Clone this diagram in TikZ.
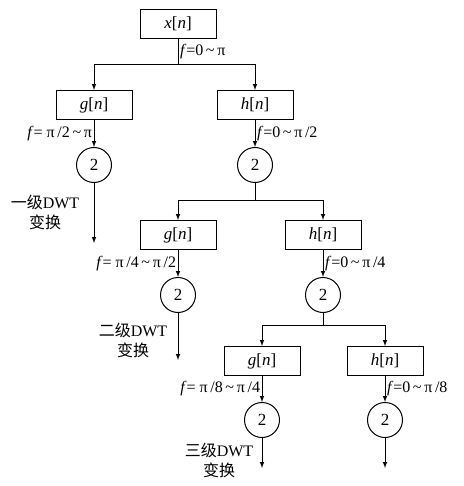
\documentclass[tikz,border=0pt]{standalone}
\usepackage{fontspec}
\setmainfont{Liberation Serif}
\newfontfamily\cjk{Noto Sans CJK SC}
\newcommand{\tl}{\,\textasciitilde\,}

\begin{document}
\begin{tikzpicture}[x=1pt,y=-1pt,line width=1pt,
  filt/.style={draw,minimum width=76pt,minimum height=29pt,inner sep=0pt,font=\fontsize{17}{19}\selectfont},
  dec/.style={draw,circle,minimum size=35pt,inner sep=0pt,font=\fontsize{17}{19}\selectfont},
  band/.style={font=\fontsize{16}{18}\selectfont,inner sep=1.5pt},
  lvl/.style={font=\fontsize{16}{20}\selectfont,align=center}]
\useasboundingbox (0,0) rectangle (463,486);
% input and first split
\node[filt] (x) at (178,24) {\textit{x}[\textit{n}]};
\coordinate (s0) at (178,65);
\draw (x) -- (s0) node[band,midway,right] {\textit{f}=0\tl π};
%first level
\node[filt] (g1) at (94,105) {\textit{g}[\textit{n}]};
\node[filt] (h1) at (255,105) {\textit{h}[\textit{n}]};
\draw[-latex] (s0) -| (g1);
\draw[-latex] (s0) -| (h1);
\node[dec] (dg1) at (94,165) {2};
\node[dec] (dh1) at (255,165) {2};
\draw[-latex] (g1) -- (dg1) node[band,midway,left] {\textit{f}= π\,/2\tl π};
\draw[-latex] (h1) -- (dh1) node[band,midway,right] {\textit{f}=0\tl π\,/2};
\coordinate (e1) at (94,243);
\draw[-latex] (dg1) -- (e1);
\node[lvl] (l1) at (45,212) {{\cjk 一级}DWT\\{\cjk 变换}};
\coordinate (s1) at (255,200);
\draw (dh1) -- (s1);
%second level
\node[filt] (g2) at (178,235) {\textit{g}[\textit{n}]};
\node[filt] (h2) at (323,235) {\textit{h}[\textit{n}]};
\draw[-latex] (s1) -| (g2);
\draw[-latex] (s1) -| (h2);
\node[dec] (dg2) at (178,295) {2};
\node[dec] (dh2) at (323,295) {2};
\draw[-latex] (g2) -- (dg2) node[band,midway,left] {\textit{f}= π\,/4\tl π\,/2};
\draw[-latex] (h2) -- (dh2) node[band,midway,right] {\textit{f}=0\tl π\,/4};
\coordinate (e2) at (178,360);
\draw[-latex] (dg2) -- (e2);
\node[lvl] (l2) at (133,340) {{\cjk 二级}DWT\\{\cjk 变换}};
\coordinate (s2) at (323,325);
\draw (dh2) -- (s2);
%third level
\node[filt] (g3) at (262,361) {\textit{g}[\textit{n}]};
\node[filt] (h3) at (385,361) {\textit{h}[\textit{n}]};
\draw[-latex] (s2) -| (g3);
\draw[-latex] (s2) -| (h3);
\node[dec] (dg3) at (262,420) {2};
\node[dec] (dh3) at (385,420) {2};
\draw[-latex] (g3) -- (dg3) node[band,midway,left] {\textit{f}= π\,/8\tl π\,/4};
\draw[-latex] (h3) -- (dh3) node[band,midway,right] {\textit{f}=0\tl π\,/8};
\coordinate (e3) at (262,468);
\coordinate (e4) at (385,468);
\draw[-latex] (dg3) -- (e3);
\draw[-latex] (dh3) -- (e4);
\node[lvl] (l3) at (219,460) {{\cjk 三级}DWT\\{\cjk 变换}};
\end{tikzpicture}
\end{document}
